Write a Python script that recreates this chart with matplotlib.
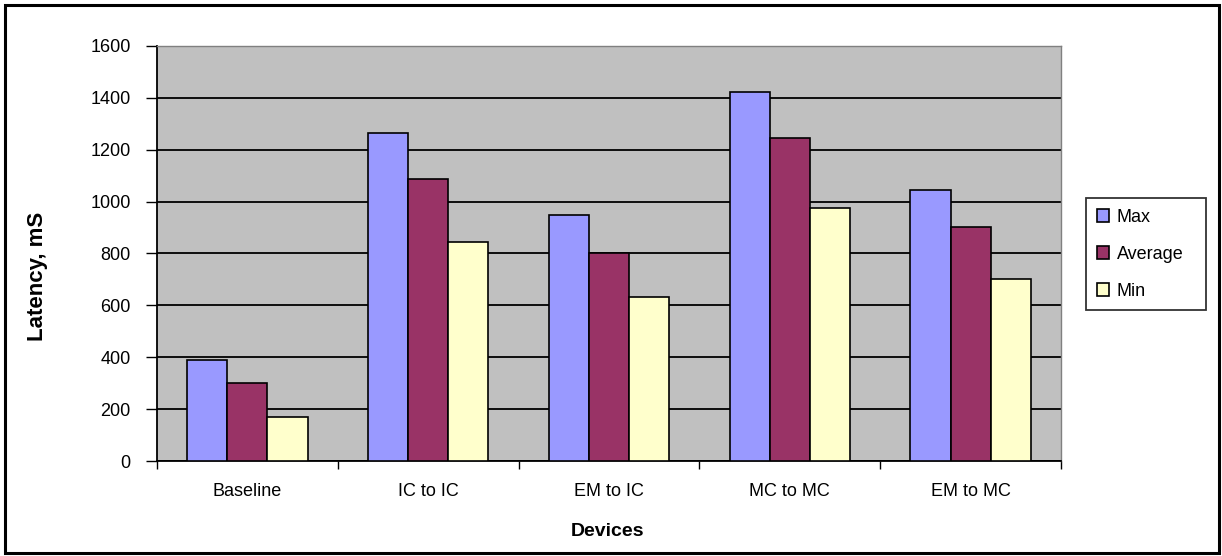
import matplotlib
matplotlib.use("Agg")
import matplotlib.pyplot as plt
import numpy as np
from matplotlib.patches import Rectangle

categories = ["Baseline", "IC to IC", "EM to IC", "MC to MC", "EM to MC"]
max_vals = [391, 1265, 950, 1422, 1043]
avg_vals = [302, 1088, 801, 1244, 904]
min_vals = [169, 846, 632, 977, 700]
series_names = ["Max", "Average", "Min"]
colors = ["#9999FF", "#993366", "#FFFFCC"]
yticks = [0, 200, 400, 600, 800, 1000, 1200, 1400, 1600]

plt.rcParams['font.family'] = ['Liberation Sans', 'DejaVu Sans']

W, H = 1222, 556
fig = plt.figure(figsize=(W/100, H/100), dpi=100)
L, R, T, B = 157, 1061, 46, 461
ax = fig.add_axes([L/W, 1-B/H, (R-L)/W, (B-T)/H])
ax.set_facecolor("#C0C0C0")

x = np.arange(len(categories))
w = 0.222
for i, (vals, name, c) in enumerate(zip([max_vals, avg_vals, min_vals], series_names, colors)):
    ax.bar(x + (i-1)*w, vals, width=w, color=c, edgecolor="black", linewidth=1.2,
           label=name, zorder=3)

ax.set_xlim(-0.5, len(categories)-0.5)
ax.set_ylim(0, 1600)
ax.set_yticks(yticks)
ax.set_yticklabels([str(t) for t in yticks], fontsize=13)
ax.yaxis.grid(True, color="black", linewidth=1.3, zorder=1)
ax.set_axisbelow(True)

ax.set_xticks(x)
ax.set_xticklabels(categories, fontsize=13)
ax.set_xticks(np.arange(-0.5, len(categories)), minor=True)
ax.tick_params(axis="x", which="major", length=0, pad=16)
ax.tick_params(axis="x", which="minor", length=6, width=1, direction="out")
ax.tick_params(axis="y", length=8, width=1, direction="out", pad=11)

for s in ["top", "right"]:
    ax.spines[s].set_color("#808080")
    ax.spines[s].set_linewidth(1)
ax.spines["left"].set_linewidth(1.3)
ax.spines["bottom"].set_linewidth(1.3)

fig.text(38/W, 1-276/H, "Latency, mS", rotation=90, fontsize=16, fontweight="bold",
         ha="center", va="center")
fig.text(607/W, 1-531/H, "Devices", fontsize=14, fontweight="bold",
         ha="center", va="center")

leg = fig.legend(loc="upper left", bbox_to_anchor=(1086/W, 1-199/H, 120/W, 1/H),
                 mode="expand",
                 frameon=True, fancybox=False, edgecolor="black", fontsize=13,
                 handlelength=0.7, handleheight=0.7, handletextpad=0.4,
                 labelspacing=1.1, borderpad=0.6, borderaxespad=0)
leg.get_frame().set_linewidth(1.3)

fig.patches.append(Rectangle((5/W, 3/H), (1219-5)/W, (551-3)/H,
                             transform=fig.transFigure, fill=False,
                             edgecolor="black", linewidth=2.2))

fig.savefig("out.png", dpi=100)
